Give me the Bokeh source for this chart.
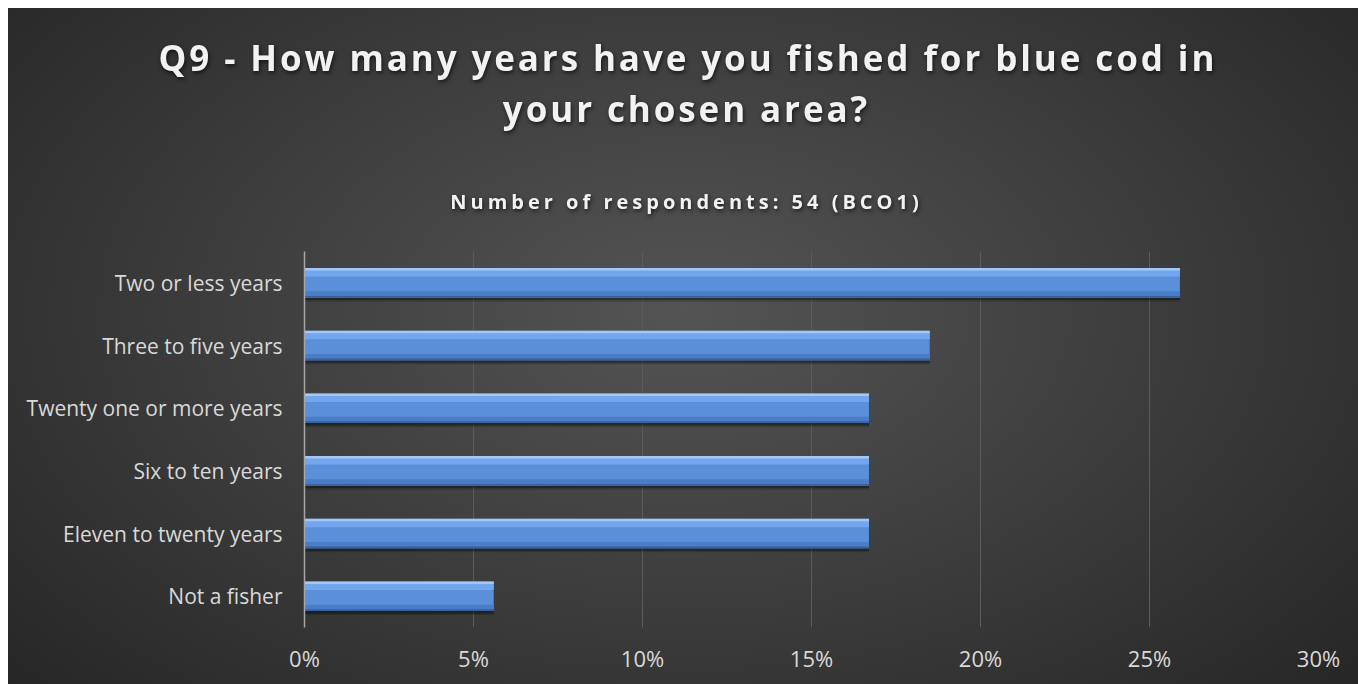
from bokeh.plotting import figure
from bokeh.layouts import column
from bokeh.models import (FactorRange, Range1d, NumeralTickFormatter, FixedTicker,
                          ColumnDataSource, Label, Title)
from bokeh.transform import dodge
from bokeh.embed import file_html
from bokeh.resources import INLINE

categories = ["Two or less years", "Three to five years", "Twenty one or more years",
              "Six to ten years", "Eleven to twenty years", "Not a fisher"]
shares = [0.259, 0.185, 0.167, 0.167, 0.167, 0.056]
x_ticks = [0.0, 0.05, 0.10, 0.15, 0.20, 0.25, 0.30]

title_line1 = "Q9 - How many years have you fished for blue cod in"
title_line2 = "your chosen area?"
subtitle = "Number of respondents: 54 (BCO1)"

FONT = "Open Sans"
W = 1350
LEFT, RIGHT = 296, 40           # frame borders of the main chart
TITLE_SP, SUB_SP = 2.9, 4.0     # letter spacing (px) of title / subtitle
CX = 678                        # horizontal centre of the headings
T_TOP = 75                      # space above the frame of the title block
T1_LEFT = 150                   # left edge of the first heading line


def text_panel(height, spacing, top=0):
    f = figure(width=W, height=height, output_backend="svg", toolbar_location=None,
               x_range=Range1d(LEFT, W - RIGHT), y_range=Range1d(height, top),
               min_border=0, min_border_left=LEFT, min_border_right=RIGHT,
               min_border_top=top, min_border_bottom=0)
    f.axis.visible = False
    f.grid.visible = False
    f.outline_line_color = None
    f.border_fill_color = None
    f.background_fill_color = None
    f.styles = {"letter-spacing": f"{spacing}px",
                "filter": "drop-shadow(1px 2px 2px rgba(0,0,0,0.65))"}
    return f


def add_label(f, txt, y, size, spacing):
    f.add_layout(Label(x=CX, y=y, x_offset=-len(txt) * spacing / 2, text=txt,
                       text_align="center", text_baseline="alphabetic",
                       text_font=FONT, text_font_style="bold", text_font_size=size,
                       text_color="#f2f2f2"))


# ---- title block ----
tfig = text_panel(130, TITLE_SP, top=T_TOP)
tfig.add_layout(Title(text=title_line1, align="left", offset=T1_LEFT - LEFT,
                      standoff=5, text_font=FONT, text_font_style="bold",
                      text_font_size="35px", text_color="#f2f2f2"), "above")
add_label(tfig, title_line2, 100, "35px", TITLE_SP)

# ---- subtitle block ----
sfig = text_panel(113, SUB_SP)
add_label(sfig, subtitle, 63, "20px", SUB_SP)

# ---- main chart ----
src = ColumnDataSource(dict(cat=categories, share=shares))

p = figure(width=W, height=433, output_backend="svg", toolbar_location=None,
           y_range=FactorRange(*list(reversed(categories)), range_padding=0),
           x_range=Range1d(0, 0.30),
           min_border_left=LEFT, min_border_right=RIGHT, min_border_top=0, min_border_bottom=57)
p.border_fill_color = None
p.background_fill_color = None
p.outline_line_color = None

p.xgrid.ticker = FixedTicker(ticks=x_ticks)
p.xgrid.grid_line_color = "#5c5c5c"
p.xgrid.grid_line_width = 1
p.ygrid.grid_line_color = None

# soft shadow under bars
p.hbar(y=dodge("cat", -0.04, range=p.y_range), left=0, right="share", height=0.52,
       source=src, fill_color="black", fill_alpha=0.18, line_color=None)
p.hbar(y=dodge("cat", -0.03, range=p.y_range), left=0, right="share", height=0.49,
       source=src, fill_color="black", fill_alpha=0.3, line_color=None)
# bar body with bevel-like shading
p.hbar(y="cat", left=0, right="share", height=0.47, source=src,
       fill_color="#5a8fd9", line_color=None)
p.hbar(y=dodge("cat", -0.185, range=p.y_range), left=0, right="share", height=0.10, source=src,
       fill_color="#4b7dc6", line_color=None)
p.hbar(y=dodge("cat", -0.222, range=p.y_range), left=0, right="share", height=0.026, source=src,
       fill_color="#35619f", line_color=None)
p.hbar(y=dodge("cat", 0.16, range=p.y_range), left=0, right="share", height=0.12, source=src,
       fill_color="#73a6ec", line_color=None)
p.hbar(y=dodge("cat", 0.215, range=p.y_range), left=0, right="share", height=0.04, source=src,
       fill_color="#a3c8f6", line_color=None)

# axes
p.xaxis.ticker = FixedTicker(ticks=x_ticks)
p.xaxis.formatter = NumeralTickFormatter(format="0%")
p.xaxis.axis_line_color = None
p.xaxis.major_tick_line_color = None
p.xaxis.minor_tick_line_color = None
p.xaxis.major_label_standoff = 9
p.xaxis.major_label_text_font = FONT
p.xaxis.major_label_text_font_size = "22px"
p.xaxis.major_label_text_color = "#d9d9d9"

p.yaxis.axis_line_color = "#a6a6a6"
p.yaxis.axis_line_width = 1.5
p.yaxis.major_tick_line_color = None
p.yaxis.minor_tick_line_color = None
p.yaxis.major_label_standoff = 16
p.yaxis.major_label_text_font = FONT
p.yaxis.major_label_text_font_size = "21px"
p.yaxis.major_label_text_color = "#d9d9d9"

layout = column(tfig, sfig, p, spacing=0, styles={
    "margin-left": "8px", "margin-top": "8px",
    "background": "radial-gradient(ellipse 72% 88% at 50% 45%, #545454 0%, #3c3c3c 50%, #232323 100%)"})

open("out.html", "w").write(file_html(layout, INLINE))
